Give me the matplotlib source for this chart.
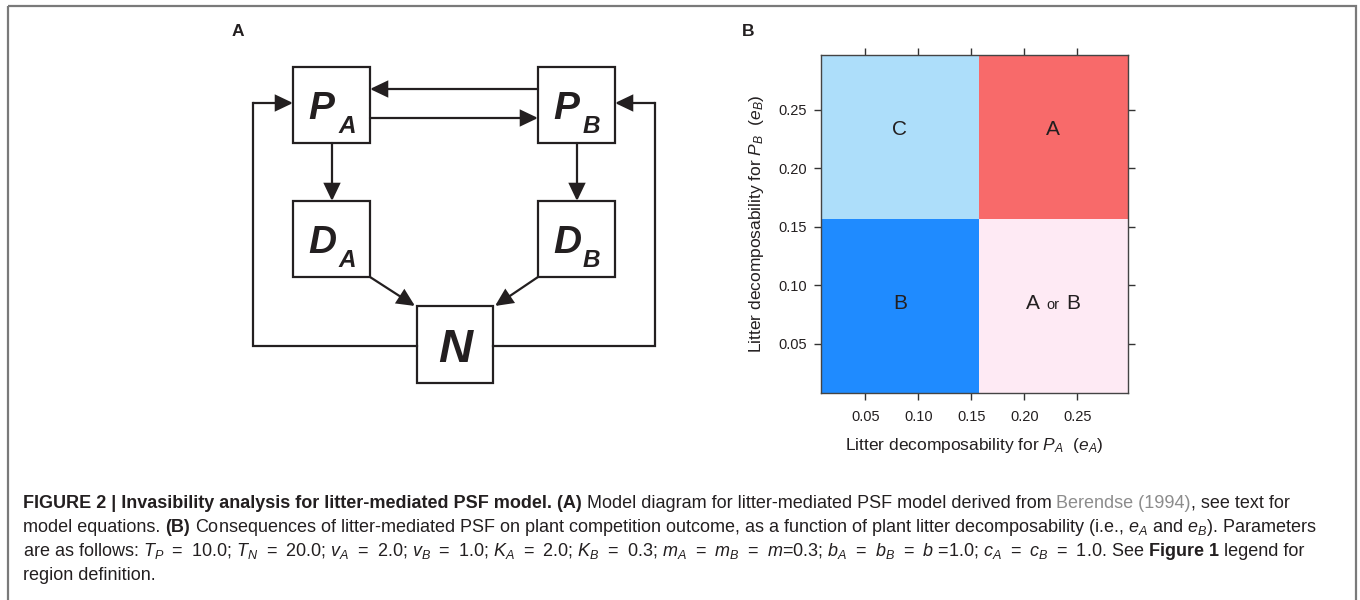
import matplotlib
matplotlib.use("Agg")
import matplotlib.pyplot as plt
import numpy as np
from matplotlib.patches import Rectangle, FancyArrowPatch
from matplotlib.colors import ListedColormap
from matplotlib.offsetbox import TextArea, HPacker, AnnotationBbox

plt.rcParams['font.family'] = ['Liberation Sans', 'DejaVu Sans']
plt.rcParams['mathtext.fontset'] = 'custom'
plt.rcParams['mathtext.rm'] = 'Liberation Sans'
plt.rcParams['mathtext.it'] = 'Liberation Sans:italic'
plt.rcParams['mathtext.bf'] = 'Liberation Sans:bold'

# ---------------- data: panel B ----------------
eA_threshold = 0.157
eB_threshold = 0.157
eA_limits = [0.008, 0.298]
eB_limits = [0.008, 0.297]
# rows: e_B low / high ; cols: e_A low / high
region_names = [["B", "A or B"],
                ["C", "A"]]
region_colors = {"B": "#1F8BFF", "A or B": "#FEEAF4", "C": "#ADDEFA", "A": "#F86A6A"}
tick_values = [0.05, 0.10, 0.15, 0.20, 0.25]
tick_labels = ["0.05", "0.10", "0.15", "0.20", "0.25"]
xlabel_B = r"Litter decomposability for $P_A$  ($e_A$)"
ylabel_B = r"Litter decomposability for $P_B$  ($e_B$)"

# ---------------- data: panel A (diagram) ----------------
node_names = ["PA", "PB", "DA", "DB", "N"]
node_main = {"PA": "P", "PB": "P", "DA": "D", "DB": "D", "N": "N"}
node_sub = {"PA": "A", "PB": "B", "DA": "A", "DB": "B", "N": ""}
links = [("PB", "PA"), ("PA", "PB"), ("PA", "DA"), ("PB", "DB"),
         ("DA", "N"), ("DB", "N"), ("N", "PA"), ("N", "PB")]

# ---------------- caption ----------------
EQ = "\u2002=\u2002"
caption_lines = [
    [("FIGURE 2 | Invasibility analysis for litter-mediated PSF model. (A)", "bold"),
     (" Model diagram for litter-mediated PSF model derived from ", "normal"),
     ("Berendse (1994)", "gray"),
     (", see text for", "normal")],
    [("model equations. ", "normal"), ("(B)", "bold"),
     (" Consequences of litter-mediated PSF on plant competition outcome, as a function of plant litter "
      "decomposability (i.e., $e_A$ and $e_B$). Parameters", "normal")],
    [("are as follows: $T_P$" + EQ + "10.0; $T_N$" + EQ + "20.0; $v_A$" + EQ + "2.0; $v_B$" + EQ + "1.0; "
      "$K_A$" + EQ + "2.0; $K_B$" + EQ + "0.3; $m_A$" + EQ + "$m_B$" + EQ + "$m$=0.3; "
      "$b_A$" + EQ + "$b_B$" + EQ + "$b$ =1.0; $c_A$" + EQ + "$c_B$" + EQ + "1.0. See ", "normal"),
     ("Figure 1", "bold"), (" legend for", "normal")],
    [("region definition.", "normal")],
]

# ---------------- layout ----------------
W, H = 1360, 600
fig = plt.figure(figsize=(W / 100, H / 100), dpi=100)
ov = fig.add_axes([0, 0, 1, 1])
ov.set_xlim(0, W)
ov.set_ylim(H, 0)
ov.axis('off')

ink = '#231F20'

# outer frame
ov.add_patch(Rectangle((8, 6), 1348, 700, fill=False, edgecolor='#7a7a7a', lw=1.6, clip_on=False))

# panel letters
ov.text(238, 31, "A", fontsize=12.5, fontweight='bold', ha='center', va='center', color=ink)
ov.text(748, 31, "B", fontsize=12.5, fontweight='bold', ha='center', va='center', color=ink)

# diagram boxes (x0, y0, x1, y1) in pixels
box = {"PA": (293, 67, 370, 143), "PB": (538, 67, 615, 143),
       "DA": (293, 201, 370, 277), "DB": (538, 201, 615, 277),
       "N": (417, 306, 493, 383)}
lw_d = 1.6
for n in node_names:
    x0, y0, x1, y1 = box[n]
    ov.add_patch(Rectangle((x0, y0), x1 - x0, y1 - y0, fill=False, edgecolor=ink, lw=lw_d))
    if node_sub[n]:
        ov.text(x0 + 15, y0 + 52, node_main[n], fontsize=28, fontweight='bold', style='italic',
                ha='left', va='baseline', color=ink)
        ov.text(x0 + 45, y0 + 66, node_sub[n], fontsize=17.5, fontweight='bold', style='italic',
                ha='left', va='baseline', color=ink)
    else:
        ov.text((x0 + x1) / 2, y0 + 56, node_main[n], fontsize=34, fontweight='bold', style='italic',
                ha='center', va='baseline', color=ink)

def arrow(p, q):
    ov.add_patch(FancyArrowPatch(p, q, arrowstyle='-|>,head_length=1.05,head_width=0.5',
                                 mutation_scale=10, shrinkA=0, shrinkB=0, lw=lw_d,
                                 color=ink, joinstyle='miter'))

link_paths = {
    ("PB", "PA"): [(538, 89), (370, 89)],
    ("PA", "PB"): [(370, 118), (538, 118)],
    ("PA", "DA"): [(332, 143), (332, 201)],
    ("PB", "DB"): [(577, 143), (577, 201)],
    ("DA", "N"): [(370, 277), (415, 306)],
    ("DB", "N"): [(538, 277), (495, 306)],
    ("N", "PA"): [(417, 346), (253, 346), (253, 103), (293, 103)],
    ("N", "PB"): [(493, 346), (655, 346), (655, 103), (615, 103)],
}
for l in links:
    pts = link_paths[l]
    if len(pts) > 2:
        xs, ys = zip(*pts[:-1])
        ov.plot(xs, ys, color=ink, lw=lw_d, solid_joinstyle='miter')
    arrow(pts[-2], pts[-1])

# ---------------- panel B ----------------
axB = fig.add_axes([821 / W, 1 - 393 / H, (1128 - 821) / W, (393 - 55) / H])
codes = {"B": 0, "A or B": 1, "C": 2, "A": 3}
cmap = ListedColormap([region_colors[k] for k in ["B", "A or B", "C", "A"]])
xe = [eA_limits[0], eA_threshold, eA_limits[1]]
ye = [eB_limits[0], eB_threshold, eB_limits[1]]
Z = np.array([[codes[r] for r in row] for row in region_names])
axB.pcolormesh(xe, ye, Z, cmap=cmap, vmin=-0.5, vmax=3.5, edgecolor='none')
axB.set_xlim(*eA_limits)
axB.set_ylim(*eB_limits)
for i in range(2):
    for j in range(2):
        name = region_names[i][j]
        cx = (xe[j] + xe[j + 1]) / 2
        cy = (ye[i] + ye[i + 1]) / 2 + (0.006 if i == 1 else 0.002)
        if name == "A or B":
            pk = HPacker(children=[TextArea("A", textprops=dict(fontsize=15, color=ink)),
                                   TextArea("or", textprops=dict(fontsize=10.5, color=ink)),
                                   TextArea("B", textprops=dict(fontsize=15, color=ink))],
                         align='baseline', pad=0, sep=5)
            axB.add_artist(AnnotationBbox(pk, (cx, cy), frameon=False, box_alignment=(0.5, 0.5)))
        else:
            axB.text(cx, cy, name, fontsize=15, ha='center', va='center', color=ink)

axB.set_xticks(tick_values, tick_labels)
axB.set_yticks(tick_values, tick_labels)
axB.tick_params(axis='both', which='both', direction='out', length=5, width=1, colors='#333333',
                labelsize=10.5, labelcolor=ink, top=True, right=True)
axB.tick_params(axis='x', pad=7)
axB.tick_params(axis='y', pad=5)
for s in axB.spines.values():
    s.set_color('#444444')
    s.set_linewidth(1.0)
axB.set_xlabel(xlabel_B, fontsize=12.5, color=ink, labelpad=9)
axB.set_ylabel(ylabel_B, fontsize=12.5, color=ink, labelpad=9)

# ---------------- caption ----------------
cap_fs = 13
styles = {"normal": dict(fontsize=cap_fs, color=ink),
          "bold": dict(fontsize=cap_fs, color=ink, fontweight='bold'),
          "gray": dict(fontsize=cap_fs, color='#8c8c8c')}
r = fig.canvas.get_renderer()

def tw(s, kw):
    t = ov.text(0, 0, s, **kw)
    w = t.get_window_extent(r).width
    t.remove()
    return w

space = {k: tw("a a", v) - tw("aa", v) for k, v in styles.items()}
baselines = [508, 532, 556, 580]
for segs, yb in zip(caption_lines, baselines):
    x = 23
    for s, st in segs:
        kw = styles[st]
        lead = len(s) - len(s.lstrip(' '))
        trail = len(s) - len(s.rstrip(' '))
        core = s.strip(' ')
        x += lead * space[st]
        if core:
            t = ov.text(x, yb, core, ha='left', va='baseline', **kw)
            x += t.get_window_extent(r).width
        x += trail * space[st]

fig.savefig("out.png", dpi=100)
